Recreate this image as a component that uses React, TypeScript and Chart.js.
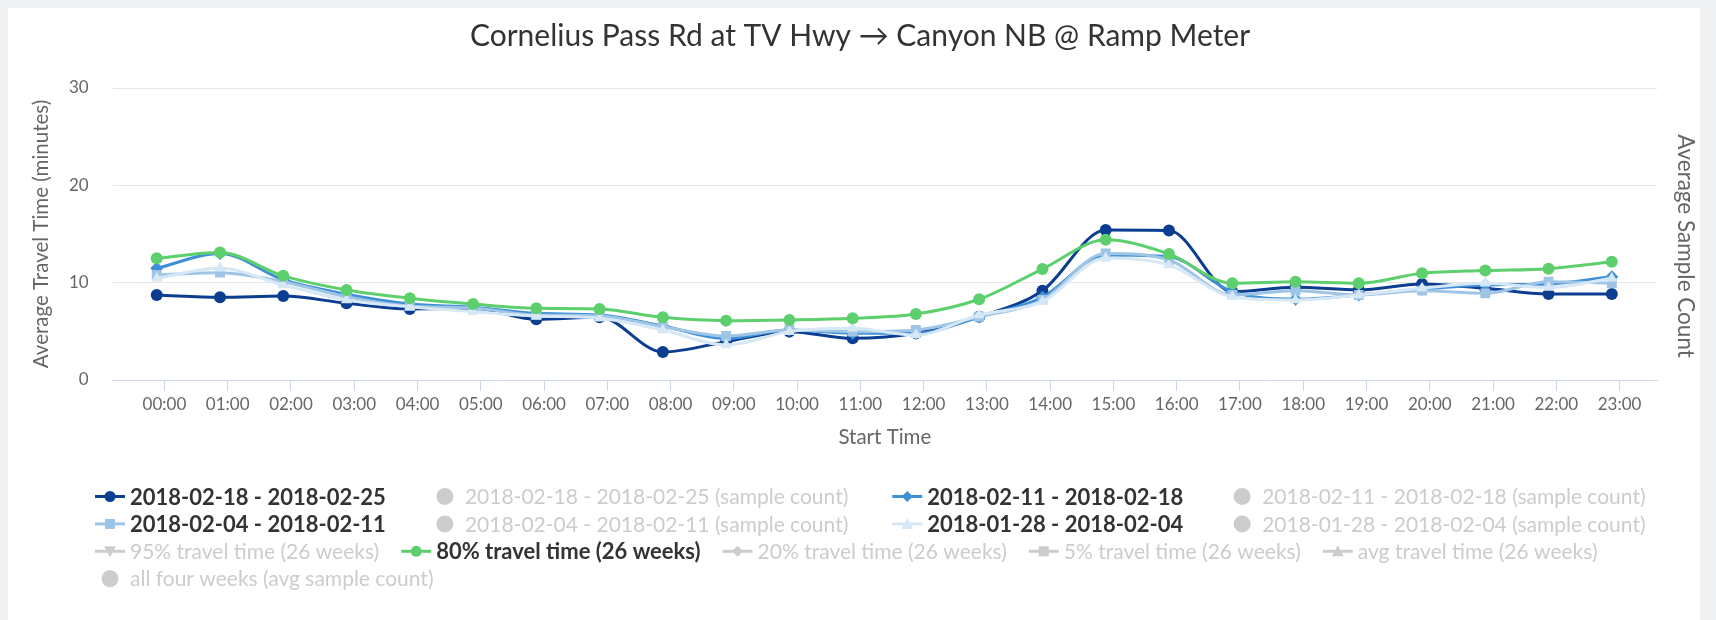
import React, { useEffect, useRef } from "react";
import { Chart, registerables } from "chart.js";

Chart.register(...registerables);

const chartTitle = "Cornelius Pass Rd at TV Hwy \u2192 Canyon NB @ Ramp Meter";
const xAxisTitle = "Start Time";
const yAxisTitle = "Average Travel Time (minutes)";
const y1AxisTitle = "Average Sample Count";

const hours = [
  "00:00", "01:00", "02:00", "03:00", "04:00", "05:00", "06:00", "07:00",
  "08:00", "09:00", "10:00", "11:00", "12:00", "13:00", "14:00", "15:00",
  "16:00", "17:00", "18:00", "19:00", "20:00", "21:00", "22:00", "23:00",
];

const yTicks = [0, 10, 20, 30];

const week0218 = [8.74, 8.5, 8.63, 7.88, 7.3, 7.37, 6.24, 6.45, 2.88, 3.94, 4.97, 4.28, 4.8, 6.5, 9.18, 15.4, 15.35, 9.08, 9.53, 9.25, 9.87, 9.42, 8.84, 8.84];
const week0211 = [11.47, 13.0, 10.3, 8.8, 7.8, 7.47, 6.85, 6.68, 5.55, 4.28, 5.14, 4.8, 4.8, 6.5, 8.5, 12.85, 12.67, 9.08, 8.3, 8.74, 9.32, 9.76, 9.87, 10.6];
const week0204 = [10.8, 11.03, 10.1, 8.56, 7.6, 7.4, 6.68, 6.58, 5.48, 4.52, 5.14, 4.97, 5.14, 6.5, 8.22, 13.0, 12.33, 8.74, 9.18, 8.74, 9.18, 8.9, 10.1, 9.94];
const week0128 = [10.45, 11.47, 9.76, 8.22, 7.53, 7.02, 6.58, 6.34, 5.14, 3.6, 4.97, 5.31, 4.62, 6.68, 8.05, 12.5, 11.82, 8.56, 8.22, 8.74, 9.42, 9.94, 9.5, 10.45];
const pct80 = [12.5, 13.1, 10.7, 9.25, 8.4, 7.8, 7.37, 7.3, 6.44, 6.1, 6.17, 6.34, 6.78, 8.3, 11.4, 14.4, 12.95, 9.94, 10.1, 9.94, 10.96, 11.24, 11.44, 12.16];

const seriesLabels = [
  "2018-02-18 - 2018-02-25",
  "2018-02-18 - 2018-02-25 (sample count)",
  "2018-02-11 - 2018-02-18",
  "2018-02-11 - 2018-02-18 (sample count)",
  "2018-02-04 - 2018-02-11",
  "2018-02-04 - 2018-02-11 (sample count)",
  "2018-01-28 - 2018-02-04",
  "2018-01-28 - 2018-02-04 (sample count)",
  "95% travel time (26 weeks)",
  "80% travel time (26 weeks)",
  "20% travel time (26 weeks)",
  "5% travel time (26 weeks)",
  "avg travel time (26 weeks)",
  "all four weeks (avg sample count)",
];
const seriesValues: (number[] | null)[] = [
  week0218, null, week0211, null, week0204, null, week0128, null,
  null, pct80, null, null, null, null,
];
const seriesColors = [
  "#0b3d91", "#cccccc", "#3e8fd6", "#cccccc", "#9ec5e6", "#cccccc", "#d6e7f6", "#cccccc",
  "#cccccc", "#5dcf6c", "#cccccc", "#cccccc", "#cccccc", "#cccccc",
];
const seriesMarkers = [
  "circle", "column", "rectRot", "column", "rect", "column", "triangle", "column",
  "triangleDown", "circle", "rectRot", "rect", "triangle", "column",
];
const legendRows = [
  [0, 1, 2, 3],
  [4, 5, 6, 7],
  [8, 9, 10, 11, 12],
  [13],
];

const FONT = 'Lato, "Open Sans", sans-serif';
const TITLE_SIZE = 30;
const TICK_SIZE = 17;
const AXIS_TITLE_SIZE = 20.5;
const RIGHT_TITLE_SIZE = 22.5;
const LEGEND_SIZE = 22;
const LEGEND_HIDDEN_SIZE = 21;

const X_MIN = -0.696;
const X_MAX = 23.714;
const TICK_SHIFT = 0.122;

const markerRadius: Record<string, number> = {
  circle: 6,
  rectRot: 6.5,
  rect: 7,
  triangle: 6.5,
  triangleDown: 6.5,
};

function drawMarker(ctx: CanvasRenderingContext2D, style: string, x: number, y: number, color: string) {
  ctx.fillStyle = color;
  ctx.beginPath();
  if (style === "circle") {
    ctx.arc(x, y, 5.5, 0, Math.PI * 2);
  } else if (style === "rect") {
    ctx.rect(x - 5, y - 5, 10, 10);
  } else if (style === "rectRot") {
    ctx.moveTo(x, y - 5.5);
    ctx.lineTo(x + 5.5, y);
    ctx.lineTo(x, y + 5.5);
    ctx.lineTo(x - 5.5, y);
    ctx.closePath();
  } else if (style === "triangle") {
    ctx.moveTo(x, y - 6);
    ctx.lineTo(x + 6, y + 5);
    ctx.lineTo(x - 6, y + 5);
    ctx.closePath();
  } else if (style === "triangleDown") {
    ctx.moveTo(x, y + 6);
    ctx.lineTo(x + 6, y - 5);
    ctx.lineTo(x - 6, y - 5);
    ctx.closePath();
  }
  ctx.fill();
}

const SYMBOL_W = 30;
const SYMBOL_PAD = 5;
const ROW_ITEM_DIST = [44, 44, 22, 22];
const LEGEND_X = 87;
const LEGEND_Y0 = 488.5;
const LEGEND_ROW_H = 27.4;

const legendPlugin = {
  id: "hcLegend",
  afterDraw(chart: any) {
    const ctx: CanvasRenderingContext2D = chart.ctx;
    ctx.save();
    ctx.textBaseline = "middle";
    ctx.textAlign = "left";
    legendRows.forEach((row, r) => {
      let x = LEGEND_X;
      const y = LEGEND_Y0 + r * LEGEND_ROW_H;
      row.forEach((i) => {
        const ds = chart.data.datasets[i];
        const hidden = !chart.isDatasetVisible(i);
        const color = hidden ? "#cccccc" : seriesColors[i];
        const marker = seriesMarkers[i];
        const cx = x + SYMBOL_W / 2;
        if (marker === "column") {
          ctx.fillStyle = color;
          ctx.beginPath();
          ctx.arc(cx, y, 8.5, 0, Math.PI * 2);
          ctx.fill();
        } else {
          ctx.strokeStyle = color;
          ctx.lineWidth = 3;
          ctx.beginPath();
          ctx.moveTo(x, y);
          ctx.lineTo(x + SYMBOL_W, y);
          ctx.stroke();
          drawMarker(ctx, marker, cx, y, color);
        }
        ctx.font = hidden
          ? `normal ${LEGEND_HIDDEN_SIZE}px ${FONT}`
          : `bold ${LEGEND_SIZE}px ${FONT}`;
        ctx.fillStyle = hidden ? "#cccccc" : "#333333";
        ctx.fillText(ds.label, x + SYMBOL_W + SYMBOL_PAD, y + 1);
        x += SYMBOL_W + SYMBOL_PAD + ctx.measureText(ds.label).width + ROW_ITEM_DIST[r];
      });
    });
    ctx.restore();
  },
};

const titlePlugin = {
  id: "hcTitle",
  afterDraw(chart: any) {
    const ctx: CanvasRenderingContext2D = chart.ctx;
    ctx.save();
    ctx.font = `${TITLE_SIZE}px ${FONT}`;
    ctx.fillStyle = "#333333";
    ctx.textAlign = "center";
    ctx.textBaseline = "middle";
    ctx.fillText(chartTitle, chart.width / 2 + 6, 28);
    ctx.translate(1677, 238);
    ctx.rotate(Math.PI / 2);
    ctx.font = `${RIGHT_TITLE_SIZE}px ${FONT}`;
    ctx.fillStyle = "#666666";
    ctx.fillText(y1AxisTitle, 0, 0);
    ctx.restore();
  },
};

export default function App() {
  const canvasRef = useRef<HTMLCanvasElement | null>(null);

  useEffect(() => {
    document.body.style.margin = "8px 0 0 8px";
    document.body.style.background = "#eef0f1";
    document.body.style.overflow = "hidden";
    if (!canvasRef.current) return;

    const datasets = seriesLabels.map((label, i) => {
      const vals = seriesValues[i];
      const marker = seriesMarkers[i];
      const isColumn = marker === "column";
      return {
        type: "line" as const,
        label,
        data: vals ? vals.map((v, k) => ({ x: k, y: v })) : [],
        hidden: !vals,
        yAxisID: isColumn ? "y1" : "y",
        borderColor: seriesColors[i],
        backgroundColor: seriesColors[i],
        pointBackgroundColor: seriesColors[i],
        pointBorderWidth: 0,
        pointStyle: isColumn || marker === "triangleDown" ? "circle" : marker,
        pointRadius: markerRadius[marker] || 6,
        borderWidth: 3,
        cubicInterpolationMode: "monotone" as const,
        order: 100 - i,
      };
    });

    const chart = new Chart(canvasRef.current, {
      type: "line",
      data: { datasets },
      plugins: [legendPlugin, titlePlugin],
      options: {
        animation: false,
        responsive: false,
        maintainAspectRatio: false,
        layout: { padding: { top: 80, left: 21.4, right: 3.9, bottom: 169.9 } },
        plugins: {
          legend: { display: false },
          title: { display: false },
          tooltip: { enabled: false },
        },
        scales: {
          x: {
            type: "linear",
            min: X_MIN,
            max: X_MAX,
            afterBuildTicks: (scale: any) => {
              scale.ticks = hours.map((_, i) => ({ value: i + TICK_SHIFT }));
            },
            afterFit: (scale: any) => {
              scale.height = 70.1;
            },
            ticks: {
              autoSkip: false,
              maxRotation: 0,
              minRotation: 0,
              padding: 3,
              color: "#666666",
              font: { family: FONT, size: TICK_SIZE },
              callback: (_v: any, idx: number) => hours[idx],
            },
            grid: {
              display: true,
              drawOnChartArea: false,
              drawTicks: true,
              tickLength: 11,
              color: "#ccd6eb",
            },
            border: { display: true, color: "#ccd6eb", width: 1 },
            title: {
              display: true,
              text: xAxisTitle,
              color: "#666666",
              padding: 0,
              font: { family: FONT, size: AXIS_TITLE_SIZE },
            },
          },
          y: {
            type: "linear",
            position: "left",
            min: 0,
            max: 30,
            afterBuildTicks: (scale: any) => {
              scale.ticks = yTicks.map((v) => ({ value: v }));
            },
            afterFit: (scale: any) => {
              scale.width = 83.3;
            },
            ticks: {
              padding: 24,
              color: "#666666",
              font: { family: FONT, size: TICK_SIZE },
            },
            grid: { color: "#e6e6e6", drawTicks: false, lineWidth: 1 },
            border: { display: false },
            title: {
              display: true,
              text: yAxisTitle,
              color: "#666666",
              padding: 0,
              font: { family: FONT, size: AXIS_TITLE_SIZE },
            },
          },
          y1: {
            type: "linear",
            position: "right",
            display: true,
            afterFit: (scale: any) => {
              scale.width = 39.1;
            },
            ticks: { display: false },
            grid: { display: false, drawOnChartArea: false },
            border: { display: false },
            title: { display: false },
          },
        },
      } as any,
    });

    return () => chart.destroy();
  }, []);

  return (
    <div style={{ width: 1692, height: 612, background: "#ffffff", position: "relative" }}>
      <canvas ref={canvasRef} width={1692} height={612} style={{ display: "block", width: 1692, height: 612 }} />
    </div>
  );
}
